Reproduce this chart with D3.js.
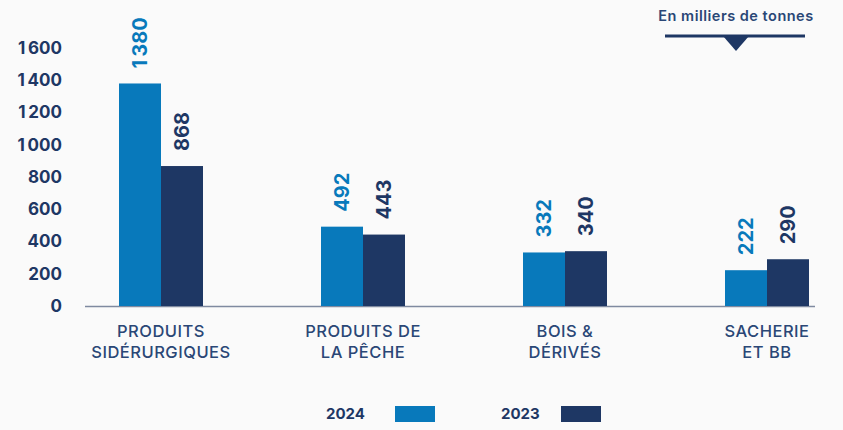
<!DOCTYPE html>
<html>
<head>
<meta charset="utf-8">
<script src="https://cdn.jsdelivr.net/npm/d3@7"></script>
<style>
  body { margin: 0; background: #fafafa; }
  svg { display: block; font-family: Inter, "Open Sans", sans-serif; }
</style>
</head>
<body>
<svg width="843" height="430"></svg>
<script>
const categories = [
  ['PRODUITS', 'SIDÉRURGIQUES'],
  ['PRODUITS DE', 'LA PÊCHE'],
  ['BOIS &', 'DÉRIVÉS'],
  ['SACHERIE', 'ET BB']
];
const years = ['2024', '2023'];
const values2024 = [1380, 492, 332, 222];
const values2023 = [868, 443, 340, 290];
const yTicks = [0, 200, 400, 600, 800, 1000, 1200, 1400, 1600];

const colors = { '2024': '#0879bb', '2023': '#1e3764' };
const navy = '#1e3764';

const svg = d3.select('svg');

const fmt = d => d3.format(',')(d).replace(',', '\u2009');

const x = d3.scaleBand()
  .domain(d3.range(categories.length))
  .range([60, 868]);

const xIn = d3.scaleBand()
  .domain(years)
  .range([0, 84]);

const y = d3.scaleLinear()
  .domain([0, 1600])
  .range([306, 48]);

// y labels
svg.selectAll('.ytick')
  .data(yTicks)
  .enter()
  .append('text')
  .attr('x', 62)
  .attr('y', d => y(d))
  .attr('dy', '0.35em')
  .attr('text-anchor', 'end')
  .attr('fill', navy)
  .attr('font-size', 17)
  .attr('font-weight', 700)
  .text(fmt);

// baseline
svg.append('line')
  .attr('x1', 85).attr('x2', 815)
  .attr('y1', y(0) + 0.5).attr('y2', y(0) + 0.5)
  .attr('stroke', '#7f8aa0')
  .attr('stroke-width', 1.5);

const rows = [];
categories.forEach((c, i) => {
  rows.push({ i: i, year: '2024', v: values2024[i] });
  rows.push({ i: i, year: '2023', v: values2023[i] });
});

svg.selectAll('.bar')
  .data(rows)
  .enter()
  .append('rect')
  .attr('x', d => x(d.i) + x.bandwidth() / 2 - 42 + xIn(d.year))
  .attr('y', d => y(d.v))
  .attr('width', xIn.bandwidth())
  .attr('height', d => y(0) - y(d.v))
  .attr('fill', d => colors[d.year]);

svg.selectAll('.val')
  .data(rows)
  .enter()
  .append('text')
  .attr('transform', d => {
    const cx = x(d.i) + x.bandwidth() / 2 - 42 + xIn(d.year) + xIn.bandwidth() / 2;
    return 'translate(' + cx + ',' + (y(d.v) - 15) + ') rotate(-90)';
  })
  .attr('dy', '0.36em')
  .attr('fill', d => colors[d.year])
  .attr('font-size', 20)
  .attr('font-weight', 700)
  .text(d => fmt(d.v));

// category labels
const cat = svg.selectAll('.cat')
  .data(categories)
  .enter()
  .append('text')
  .attr('text-anchor', 'middle')
  .attr('fill', '#2a4776')
  .attr('font-size', 16.5)
  .attr('font-weight', 500)
  .attr('letter-spacing', 0.5);
cat.selectAll('tspan')
  .data((d, i) => d.map(t => ({ t: t, i: i })))
  .enter()
  .append('tspan')
  .attr('x', d => x(d.i) + x.bandwidth() / 2)
  .attr('y', (d, j) => 337 + j * 21)
  .text(d => d.t);

// legend
const legend = svg.selectAll('.leg')
  .data(years)
  .enter()
  .append('g')
  .attr('transform', (d, i) => 'translate(' + (326 + i * 175) + ',0)');
legend.append('text')
  .attr('x', 0).attr('y', 414)
  .attr('dy', '0.35em')
  .attr('fill', navy)
  .attr('font-size', 15)
  .attr('font-weight', 700)
  .text(d => d);
legend.append('rect')
  .attr('x', (d, i) => i ? 60 : 69)
  .attr('y', 406)
  .attr('width', 40).attr('height', 16)
  .attr('fill', d => colors[d]);

// unit note
svg.append('text')
  .attr('x', 736).attr('y', 16)
  .attr('dy', '0.35em')
  .attr('text-anchor', 'middle')
  .attr('fill', '#2a4776')
  .attr('font-size', 14.5)
  .attr('font-weight', 600)
  .attr('letter-spacing', 0.5)
  .text('En milliers de tonnes');
svg.append('line')
  .attr('x1', 665).attr('x2', 805)
  .attr('y1', 36).attr('y2', 36)
  .attr('stroke', navy).attr('stroke-width', 3);
svg.append('path')
  .attr('d', 'M723,36 L749,36 L736,51 Z')
  .attr('fill', navy);
</script>
</body>
</html>
